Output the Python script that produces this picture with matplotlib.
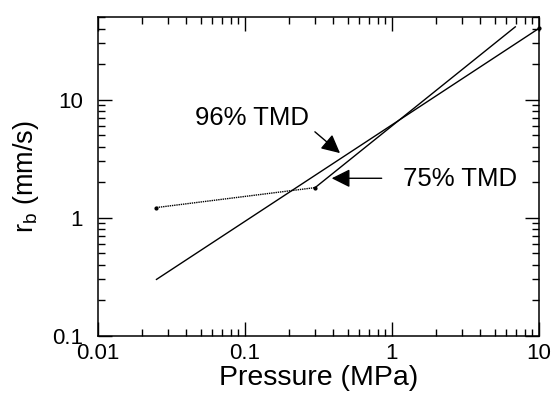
import matplotlib
matplotlib.use('Agg')
import matplotlib.pyplot as plt
from matplotlib.ticker import LogLocator, NullFormatter, FixedLocator, FixedFormatter

plt.rcParams['font.family'] = ['Liberation Sans', 'DejaVu Sans']
plt.rcParams['mathtext.fontset'] = 'custom'
plt.rcParams['mathtext.rm'] = 'Liberation Sans'
plt.rcParams['mathtext.it'] = 'Liberation Sans'

# burn rate fits (MPa, mm/s)
p96 = [0.025, 10.0]
rb96 = [0.3, 40.3]
p75_low = [0.025, 0.3]
rb75_low = [1.22, 1.8]
p75 = [0.3, 6.9]
rb75 = [1.8, 41.5]

xticks = [0.01, 0.1, 1, 10]
xticklabels = ['0.01', '0.1', '1', '10']
yticks = [0.1, 1, 10]
yticklabels = ['0.1', '1', '10']

fig = plt.figure(figsize=(5.52, 3.97), dpi=100)
ax = fig.add_axes([0.1775, 0.1544, 0.7989, 0.8020])

ax.plot(p96, rb96, color='k', lw=1.0)
ax.plot(p96[1:], rb96[1:], 'k.', ms=4, clip_on=False)
ax.plot(p75_low, rb75_low, color='k', lw=1.0, ls=(0, (1, 0.6)), marker='.', ms=4)
ax.plot(p75, rb75, color='k', lw=1.0)

ax.set_xscale('log')
ax.set_yscale('log')
ax.set_xlim(0.01, 10)
ax.set_ylim(0.1, 50)

ax.xaxis.set_major_locator(FixedLocator(xticks))
ax.xaxis.set_major_formatter(FixedFormatter(xticklabels))
ax.yaxis.set_major_locator(FixedLocator(yticks))
ax.yaxis.set_major_formatter(FixedFormatter(yticklabels))
ax.xaxis.set_minor_locator(LogLocator(base=10, subs=range(2, 10)))
ax.yaxis.set_minor_locator(LogLocator(base=10, subs=range(2, 10)))
ax.xaxis.set_minor_formatter(NullFormatter())
ax.yaxis.set_minor_formatter(NullFormatter())

ax.tick_params(which='both', direction='in', top=True, right=True, width=1.0)
ax.tick_params(which='major', length=10, labelsize=16)
ax.tick_params(axis='x', which='major', pad=5)
ax.tick_params(axis='y', which='major', pad=11)
ax.tick_params(which='minor', length=5)
for s in ax.spines.values():
    s.set_linewidth(1.1)

ax.set_xlabel('Pressure (MPa)', fontsize=20.5, labelpad=1)
ax.set_ylabel(r'$\mathregular{r_b}$ (mm/s)', fontsize=19.5, labelpad=8)

arrow = dict(arrowstyle='-|>', color='k', lw=1.0, mutation_scale=28, shrinkA=0, shrinkB=0)
ax.annotate('', xy=(0.443, 3.53), xytext=(0.299, 5.35), arrowprops=arrow)
ax.text(0.1116, 7.0, '96% TMD', fontsize=18.5, ha='center', va='center')
ax.annotate('', xy=(0.389, 2.16), xytext=(0.851, 2.16), arrowprops=arrow)
ax.text(2.92, 2.13, '75% TMD', fontsize=18.5, ha='center', va='center')

fig.savefig('out.png', dpi=100)
